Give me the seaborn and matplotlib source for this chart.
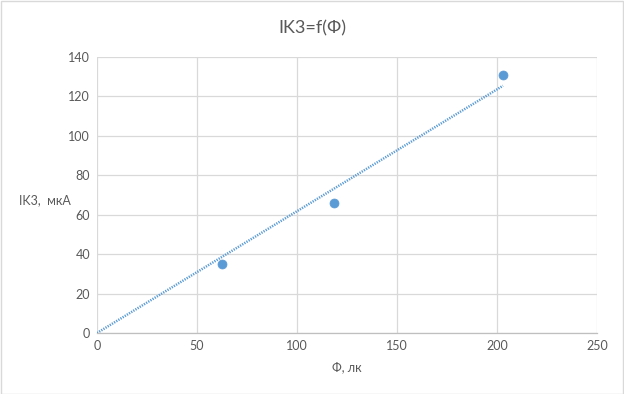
import numpy as np
import pandas as pd
import matplotlib
matplotlib.use("Agg")
import matplotlib.pyplot as plt
import seaborn as sns

# Data
phi = [62.5, 118.3, 203.0]      # Ф, лк
ik3 = [34.8, 65.7, 130.9]       # IK3, мкА
x_ticks = [0, 50, 100, 150, 200, 250]
y_ticks = [0, 20, 40, 60, 80, 100, 120, 140]

df = pd.DataFrame({"phi": phi, "ik3": ik3})

sns.set_theme(style="white")
plt.rcParams['font.family'] = ['Lato', 'DejaVu Sans']

fig = plt.figure(figsize=(6.24, 3.94), dpi=100)
ax = fig.add_axes([97/624, 1-333/394, 500/624, 276/394])

blue = "#5B9BD5"
txt = "#595959"

# Linear trendline through the origin (Excel-style, intercept = 0)
x = np.array(phi)
y = np.array(ik3)
k = (x * y).sum() / (x * x).sum()
tx = np.array([0, x.max()])
ax.plot(tx, k * tx, color=blue, lw=1.8, ls=(0, (0.5, 0.5)), zorder=2)

sns.scatterplot(data=df, x="phi", y="ik3", ax=ax, color=blue, s=42,
                edgecolor=blue, linewidth=0.5, zorder=3)

ax.set_xlim(0, 250)
ax.set_ylim(0, 140)
ax.set_xticks(x_ticks)
ax.set_yticks(y_ticks)
ax.grid(True, color="#D9D9D9", lw=0.9)
ax.set_axisbelow(True)
for s in ["top", "right", "left"]:
    ax.spines[s].set_visible(False)
ax.spines["bottom"].set_color("#BFBFBF")
ax.spines["bottom"].set_linewidth(0.9)
ax.tick_params(axis="both", length=0, labelsize=9, colors=txt, pad=5)

ax.set_xlabel("")
ax.set_ylabel("")
fig.text(347/624, 1-367/394, "Ф, лк", ha="center", va="center", fontsize=9, color=txt)
fig.text(19/624, 1-200/394, "IK3,  мкА", ha="left", va="center", fontsize=9, color=txt)
fig.text(312/624, 1-28/394, "IK3=f(Ф)", ha="center", va="center", fontsize=13, color=txt)

# outer chart border
fig.patches.append(plt.Rectangle((0.001, 0.001), 0.997, 0.997, transform=fig.transFigure,
                                 fill=False, edgecolor="#D9D9D9", lw=1.0))

fig.savefig("out.png", dpi=100, facecolor="white")
